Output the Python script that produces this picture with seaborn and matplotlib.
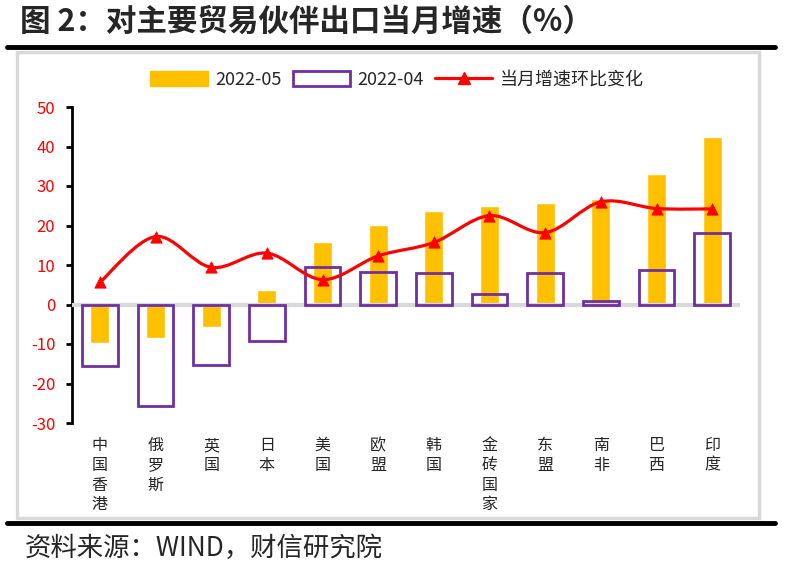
import numpy as np
import pandas as pd
import matplotlib
matplotlib.use("Agg")
import matplotlib.pyplot as plt
import seaborn as sns
from matplotlib.patches import Patch, Rectangle, PathPatch
from matplotlib.lines import Line2D
from matplotlib.path import Path

categories = ["中国香港", "俄罗斯", "英国", "日本", "美国", "欧盟", "韩国",
              "金砖国家", "东盟", "南非", "巴西", "印度"]
may_2022 = [-9.8, -8.6, -5.7, 3.7, 15.7, 20.2, 23.7, 24.9, 25.8, 26.6, 33.0, 42.4]
apr_2022 = [-15.5, -25.8, -15.4, -9.3, 9.6, 8.2, 7.9, 2.6, 7.9, 0.8, 8.8, 18.2]
mom_change = [5.6, 17.2, 9.4, 13.0, 6.3, 12.3, 15.7, 22.5, 18.2, 26.0, 24.3, 24.2]
y_ticks = [-30, -20, -10, 0, 10, 20, 30, 40, 50]

title = "图 2：对主要贸易伙伴出口当月增速（%）"
source = "资料来源：WIND，财信研究院"
legend_labels = ["2022-05", "2022-04", "当月增速环比变化"]

YELLOW = "#ffc000"
PURPLE = "#7030a0"
RED = "#ff0000"

sns.set_theme(style="white")
plt.rcParams["font.family"] = ["Liberation Sans Narrow", "Noto Sans CJK SC", "DejaVu Sans"]
plt.rcParams["axes.unicode_minus"] = False

df = pd.DataFrame({"cat": categories, "may": may_2022, "apr": apr_2022, "mom": mom_change})

W, H = 787, 566
fig = plt.figure(figsize=(W / 100, H / 100), dpi=100)

# decorative frame and rules
fig.add_artist(Rectangle((17 / W, 1 - 518 / H), 742 / W, 466 / H, transform=fig.transFigure,
                         fill=False, edgecolor="#d9d9d9", lw=2.5))
fig.add_artist(Line2D([7 / W, 775 / W], [1 - 47 / H, 1 - 47 / H], transform=fig.transFigure,
                      color="black", lw=3.5))
fig.add_artist(Line2D([7 / W, 775 / W], [1 - 523 / H, 1 - 523 / H], transform=fig.transFigure,
                      color="black", lw=3.5))

ax = fig.add_axes([72 / W, 1 - 423 / H, 668 / W, 316 / H])

sns.barplot(data=df, x="cat", y="may", color=YELLOW, width=0.34, ax=ax,
            saturation=1, zorder=2)
ax.axhline(0, color="#d9d9d9", lw=3, zorder=3)
sns.barplot(data=df, x="cat", y="apr", fill=False, width=0.64, ax=ax,
            edgecolor=PURPLE, linewidth=2.0, zorder=4)
for p in ax.patches:
    if not p.get_fill():
        p.set_edgecolor(PURPLE)

# smooth line through the points (Catmull-Rom as cubic Bezier)
xs = np.arange(len(categories), dtype=float)
ys = np.asarray(mom_change, dtype=float)
pts = np.column_stack([xs, ys])
verts = [pts[0]]
codes = [Path.MOVETO]
n = len(pts)
for i in range(n - 1):
    p0 = pts[i - 1] if i > 0 else pts[i]
    p1 = pts[i]
    p2 = pts[i + 1]
    p3 = pts[i + 2] if i + 2 < n else pts[i + 1]
    c1 = p1 + (p2 - p0) / 6.0
    c2 = p2 - (p3 - p1) / 6.0
    verts += [c1, c2, p2]
    codes += [Path.CURVE4] * 3
ax.add_patch(PathPatch(Path(verts, codes), fill=False, edgecolor=RED, lw=2.3, zorder=5))
sns.scatterplot(data=df, x="cat", y="mom", marker="^", color=RED, edgecolor=RED,
                s=65, ax=ax, zorder=6, legend=False)

ax.set_xlim(-0.5, len(categories) - 0.5)
ax.set_ylim(-30, 50)
ax.set_yticks(y_ticks)
ax.set_yticklabels([str(v) for v in y_ticks], color=RED, fontsize=12)
ax.set_xticks(range(len(categories)))
ax.set_xticklabels(["\n".join(c) for c in categories], fontsize=11.5,
                   family=["Noto Sans CJK SC", "DejaVu Sans"], va="top", linespacing=1.22)
ax.set_xlabel("")
ax.set_ylabel("")
for s in ["top", "right", "bottom"]:
    ax.spines[s].set_visible(False)
ax.spines["left"].set_color("black")
ax.spines["left"].set_linewidth(2)
ax.tick_params(axis="y", which="major", left=True, length=4, width=2, color="black", pad=8)
ax.tick_params(axis="x", length=0, pad=10)
ax.set_facecolor("none")

handles = [
    Patch(facecolor=YELLOW, edgecolor=YELLOW),
    Patch(facecolor="white", edgecolor=PURPLE, lw=2.0),
    Line2D([0], [0], color=RED, lw=2.3, marker="^", markersize=8),
]
fig.legend(handles, legend_labels, loc="center", bbox_to_anchor=(397 / W, 1 - 80 / H),
           ncol=3, frameon=False, handlelength=3.2, handleheight=0.9,
           columnspacing=0.6, handletextpad=0.4,
           prop={"family": ["Liberation Sans Narrow", "Noto Sans CJK SC"], "size": 13})

fig.text(20 / W, 1 - 22 / H, title, fontsize=22, fontweight="bold", va="center", ha="left",
         family=["Noto Sans CJK SC", "DejaVu Sans"])
fig.text(25 / W, 1 - 548 / H, source, fontsize=19, style="italic", va="center", ha="left",
         family=["Noto Sans CJK SC", "DejaVu Sans"])

fig.savefig("out.png", dpi=100)
